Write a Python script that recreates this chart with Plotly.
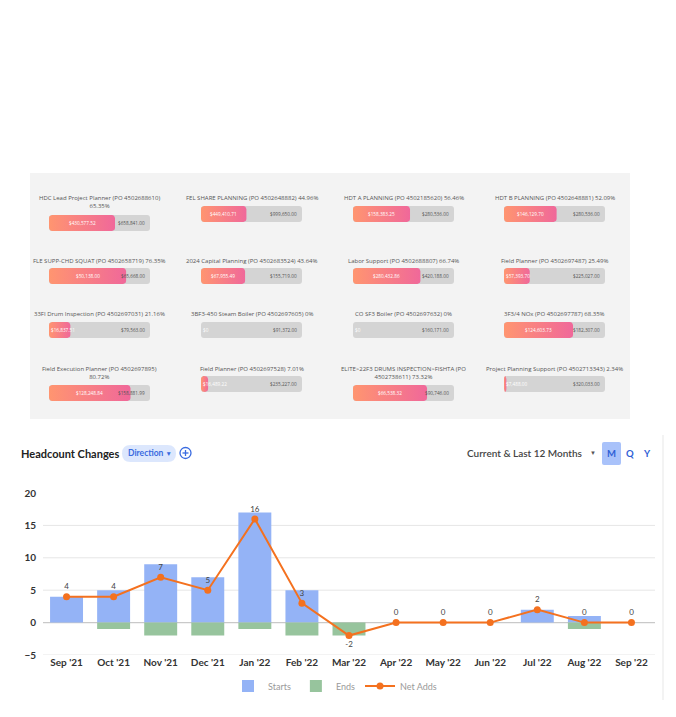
import math
import plotly.graph_objects as go

W, H = 676, 717

# ---------------- Budget progress panel data ----------------
budget_titles = [
    "HDC Lead Project Planner (PO 4502688610)<br>65.35%",
    "FEL SHARE PLANNING (PO 4502648882) 44.96%",
    "HDT A PLANNING (PO 4502185620) 56.46%",
    "HDT B PLANNING (PO 4502648881) 52.09%",
    "FLE SUPP-CHD SQUAT (PO 4502658719) 76.35%",
    "2024 Capital Planning (PO 4502683524) 43.64%",
    "Labor Support (PO 4502688807) 66.74%",
    "Field Planner (PO 4502697487) 25.49%",
    "33FI Drum Inspection (PO 4502697031) 21.16%",
    "3BF3-450 Steam Boiler (PO 4502697605) 0%",
    "CO SF3 Boiler (PO 4502697632) 0%",
    "3F3/4 NOx (PO 4502697787) 68.35%",
    "Field Execution Planner (PO 4502697895)<br>80.72%",
    "Field Planner (PO 4502697528) 7.01%",
    "ELITE&gt;22F3 DRUMS INSPECTION&gt;FISHTA (PO<br>4502738611) 73.32%",
    "Project Planning Support (PO 4502713343) 2.34%",
]
budget_pct = [65.35, 44.96, 56.46, 52.09, 76.35, 43.64, 66.74, 25.49,
              21.16, 0, 0, 68.35, 80.72, 7.01, 73.32, 2.34]
budget_spent = ["$430,577.52", "$449,410.71", "$158,383.25", "$146,129.70",
                "$50,138.00", "$67,955.49", "$280,432.86", "$57,393.70",
                "$16,837.51", "$0", "$0", "$124,603.73",
                "$128,248.84", "$16,489.22", "$66,538.32", "$7,488.00"]
budget_total = ["$658,841.00", "$999,650.00", "$280,536.00", "$280,536.00",
                "$65,668.00", "$155,719.00", "$420,188.00", "$225,027.00",
                "$79,563.00", "$91,372.00", "$160,171.00", "$182,307.00",
                "$158,881.99", "$235,227.00", "$90,746.00", "$320,033.00"]

# ---------------- Headcount chart data ----------------
months = ["Sep '21", "Oct '21", "Nov '21", "Dec '21", "Jan '22", "Feb '22", "Mar '22",
          "Apr '22", "May '22", "Jun '22", "Jul '22", "Aug '22", "Sep '22"]
starts = [4, 5, 9, 7, 17, 5, 0, 0, 0, 0, 2, 1, 0]
ends = [0, -1, -2, -2, -1, -2, -2, 0, 0, 0, 0, -1, 0]
net_adds = [4, 4, 7, 5, 16, 3, -2, 0, 0, 0, 2, 0, 0]
y_ticks = [-5, 0, 5, 10, 15, 20]
y_grid = [-5, 0, 5, 10, 15]


def px(x):
    return x / W


def py(y):
    return 1 - y / H


def rounded_rect(x1, rx, ry, n=6):
    xs, ys = [], []
    corners = [((x1 - rx, ry), -90, 0), ((x1 - rx, 1 - ry), 0, 90),
               ((rx, 1 - ry), 90, 180), ((rx, ry), 180, 270)]
    for (cx, cy), a0, a1 in corners:
        for i in range(n + 1):
            a = math.radians(a0 + (a1 - a0) * i / n)
            xs.append(cx + rx * math.cos(a))
            ys.append(cy + ry * math.sin(a))
    xs.append(xs[0])
    ys.append(ys[0])
    return xs, ys


fig = go.Figure()
layout_extra = {}
annotations = []
shapes = []

PANEL_FONT = "Open Sans"
shapes.append(dict(type="rect", xref="paper", yref="paper", x0=px(30), x1=px(630),
                   y0=py(419), y1=py(173), fillcolor="#F3F3F3", line_width=0, layer="below"))

col_left = [49, 201, 353, 504]
row_title_y = [197, 259, 313, 367]
BAR_W, BAR_H = 101, 16
RADIUS = 3

for i, title in enumerate(budget_titles):
    r, c = divmod(i, 4)
    n = i + 2
    nlines = title.count("<br>") + 1
    tc = row_title_y[r]
    top = tc + 9 + 9 * (nlines - 1)
    left = col_left[c]
    xa, ya = f"x{n}", f"y{n}"
    layout_extra[f"xaxis{n}"] = dict(domain=[px(left), px(left + BAR_W)], range=[0, 100],
                                     visible=False, fixedrange=True, anchor=ya, automargin=False)
    layout_extra[f"yaxis{n}"] = dict(domain=[py(top + BAR_H), py(top)], range=[0, 1],
                                     visible=False, fixedrange=True, anchor=xa, automargin=False)
    fig.add_trace(go.Bar(x=[100], y=[0.5], base=0, width=1, orientation="h",
                         marker=dict(color="#D4D4D4", cornerradius=RADIUS, line_width=0),
                         xaxis=xa, yaxis=ya, showlegend=False, hoverinfo="skip"))
    p = budget_pct[i]
    if p > 0:
        rx = min(RADIUS / BAR_W * 100, p / 2)
        ry = RADIUS / BAR_H
        xs, ys = rounded_rect(p, rx, ry)
        fig.add_trace(go.Scatter(x=xs, y=ys, mode="lines", fill="toself",
                                 fillgradient=dict(type="horizontal",
                                                   colorscale=[[0, "#FF9570"], [1, "#F0689A"]]),
                                 line=dict(width=0), xaxis=xa, yaxis=ya,
                                 showlegend=False, hoverinfo="skip"))
    annotations.append(dict(xref="paper", yref="paper", x=px(left + BAR_W / 2), y=py(tc - 4.5),
                            xanchor="center", yanchor="top", text=title, showarrow=False,
                            font=dict(family=PANEL_FONT, size=6, color="#555555")))
    fill_px = p / 100 * BAR_W
    tw = len(budget_spent[i]) * 2.45
    if fill_px >= tw + 4:
        annotations.append(dict(xref=xa, yref=ya, x=p / 2, y=0.5, xanchor="center", yanchor="middle",
                                text=budget_spent[i], showarrow=False,
                                font=dict(family=PANEL_FONT, size=4.7, color="#FFFFFF")))
    else:
        annotations.append(dict(xref=xa, yref=ya, x=0, y=0.5, xanchor="left", yanchor="middle",
                                text=budget_spent[i], showarrow=False,
                                font=dict(family=PANEL_FONT, size=4.7, color="#FFFFFF")))
    annotations.append(dict(xref=xa, yref=ya, x=100, y=0.5, xanchor="right", yanchor="middle",
                            xshift=-3, text=budget_total[i], showarrow=False,
                            font=dict(family=PANEL_FONT, size=4.7, color="#555555")))

# ---------------- Headcount chart ----------------
FONT = "Lato"
fig.add_trace(go.Bar(x=months, y=starts, name="Starts",
                     marker=dict(color="#94B3F6", line_width=0)))
fig.add_trace(go.Bar(x=months, y=ends, name="Ends",
                     marker=dict(color="#97C49D", line_width=0)))
fig.add_trace(go.Scatter(x=months, y=net_adds, name="Net Adds", mode="lines+markers+text",
                         text=[str(v) for v in net_adds],
                         textposition=["top center" if v >= 0 else "bottom center" for v in net_adds],
                         textfont=dict(family=FONT, size=8, color="#444444"),
                         line=dict(color="#F4711F", width=2),
                         marker=dict(color="#F4711F", size=7)))

# horizontal gridlines (no line at the top value, darker zero line)
for v in y_grid:
    shapes.append(dict(type="line", xref="x domain", yref="y", x0=0, x1=1, y0=v, y1=v,
                       layer="below",
                       line=dict(color="#C9C9C9" if v == 0 else "#E6E6E6", width=1.2 if v == 0 else 1)))

annotations.append(dict(xref="paper", yref="paper", x=px(19), y=py(453), xanchor="left", yanchor="middle",
                        text="Headcount Changes", showarrow=False,
                        font=dict(family=FONT, size=11, color="#222222", weight=700)))
pill_x0, pill_x1, pill_y0, pill_y1 = 122, 176, 445, 462
rr = 8.5
path = (f"M {px(pill_x0 + rr)},{py(pill_y0)} L {px(pill_x1 - rr)},{py(pill_y0)} "
        f"Q {px(pill_x1)},{py(pill_y0)} {px(pill_x1)},{py((pill_y0 + pill_y1) / 2)} "
        f"Q {px(pill_x1)},{py(pill_y1)} {px(pill_x1 - rr)},{py(pill_y1)} "
        f"L {px(pill_x0 + rr)},{py(pill_y1)} "
        f"Q {px(pill_x0)},{py(pill_y1)} {px(pill_x0)},{py((pill_y0 + pill_y1) / 2)} "
        f"Q {px(pill_x0)},{py(pill_y0)} {px(pill_x0 + rr)},{py(pill_y0)} Z")
shapes.append(dict(type="path", xref="paper", yref="paper", path=path, fillcolor="#DCE7FD", line_width=0))
annotations.append(dict(xref="paper", yref="paper", x=px(126), y=py(453.5), xanchor="left", yanchor="middle",
                        text="Direction <span style='font-size:6.5px'>▼</span>", showarrow=False,
                        font=dict(family=FONT, size=8.5, color="#3A6BE0", weight=700)))
shapes.append(dict(type="circle", xref="paper", yref="paper", x0=px(180), x1=px(191),
                   y0=py(458.5), y1=py(447.5), line=dict(color="#3A6BE0", width=1.3)))
shapes.append(dict(type="line", xref="paper", yref="paper", x0=px(182.5), x1=px(188.5),
                   y0=py(453), y1=py(453), line=dict(color="#3A6BE0", width=1.3)))
shapes.append(dict(type="line", xref="paper", yref="paper", x0=px(185.5), x1=px(185.5),
                   y0=py(450), y1=py(456), line=dict(color="#3A6BE0", width=1.3)))

annotations.append(dict(xref="paper", yref="paper", x=px(585), y=py(453), xanchor="right", yanchor="middle",
                        text="Current &amp; Last 12 Months", showarrow=False,
                        font=dict(family=FONT, size=10, color="#444444", weight=600)))
annotations.append(dict(xref="paper", yref="paper", x=px(593), y=py(453.5), xanchor="center", yanchor="middle",
                        text="▼", showarrow=False, font=dict(size=6, color="#555555")))
mx0, mx1, my0, my1, mr = 602, 621, 442, 465, 2
mpath = (f"M {px(mx0 + mr)},{py(my0)} L {px(mx1 - mr)},{py(my0)} Q {px(mx1)},{py(my0)} {px(mx1)},{py(my0 + mr)} "
         f"L {px(mx1)},{py(my1 - mr)} Q {px(mx1)},{py(my1)} {px(mx1 - mr)},{py(my1)} "
         f"L {px(mx0 + mr)},{py(my1)} Q {px(mx0)},{py(my1)} {px(mx0)},{py(my1 - mr)} "
         f"L {px(mx0)},{py(my0 + mr)} Q {px(mx0)},{py(my0)} {px(mx0 + mr)},{py(my0)} Z")
shapes.append(dict(type="path", xref="paper", yref="paper", path=mpath, fillcolor="#A9C2FA", line_width=0))
for label, cx in [("M", 611.5), ("Q", 630), ("Y", 647)]:
    annotations.append(dict(xref="paper", yref="paper", x=px(cx), y=py(453.5), xanchor="center", yanchor="middle",
                            text=label, showarrow=False,
                            font=dict(family=FONT, size=9.5, color="#2F5FD6", weight=700)))
shapes.append(dict(type="line", xref="paper", yref="paper", x0=px(663), x1=px(663),
                   y0=py(435), y1=py(700), line=dict(color="#EFEFEF", width=1.5)))

fig.update_layout(
    width=W, height=H, margin=dict(l=0, r=0, t=0, b=0, autoexpand=False),
    paper_bgcolor="#FFFFFF", plot_bgcolor="rgba(0,0,0,0)",
    barmode="relative", bargap=0.3,
    xaxis=dict(domain=[px(43), px(655)], anchor="y", range=[-0.5, len(months) - 0.5],
               showgrid=False, zeroline=False, ticks="", automargin=False,
               tickfont=dict(family=FONT, size=10, color="#333333", weight=700), fixedrange=True),
    yaxis=dict(domain=[py(655), py(493)], anchor="x", range=[-5, 20], tickvals=y_ticks,
               showgrid=False, zeroline=False, ticks="", automargin=False,
               ticklabelstandoff=6,
               tickfont=dict(family=FONT, size=10, color="#333333", weight=700), fixedrange=True),
    legend=dict(orientation="h", x=px(335), xanchor="center", y=py(686), yanchor="middle",
                font=dict(family=FONT, size=9, color="#9A9A9A"), itemwidth=30,
                bgcolor="rgba(0,0,0,0)"),
    annotations=annotations, shapes=shapes,
    **layout_extra,
)

fig.write_html("out.html")
